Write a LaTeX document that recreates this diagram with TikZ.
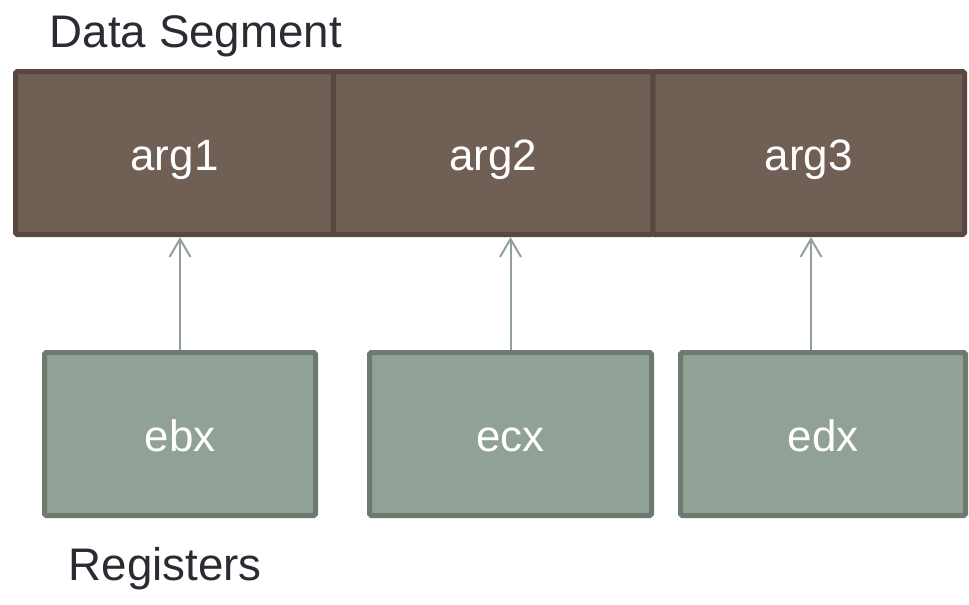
\documentclass[tikz,border=0pt]{standalone}
\usepackage{fontspec}
\setmainfont{Liberation Sans}
\usetikzlibrary{arrows.meta}
\definecolor{segfill}{HTML}{705F55}
\definecolor{segline}{HTML}{594840}
\definecolor{regfill}{HTML}{92A195}
\definecolor{regline}{HTML}{6C7A6F}
\definecolor{titletext}{HTML}{2B2B33}
\begin{document}
\begin{tikzpicture}[
    cell/.style={draw=segline,fill=segfill,line width=0.1cm,rounded corners=1pt,minimum height=3.26cm,inner sep=0pt,
      text=white,font=\fontsize{25}{30}\selectfont,text height=0.68cm,text depth=0cm},
    reg/.style={cell,draw=regline,fill=regfill},
    ptr/.style={-{Straight Barb[length=0.36cm,width=0.42cm]},regfill,line width=0.04cm},
    title/.style={anchor=base west,inner sep=0pt,text=titletext,font=\fontsize{26}{31}\selectfont}]
        \useasboundingbox (0,0) rectangle (19.38,12.08);
        % data segment
        \node[cell,minimum width=6.36cm] (arg1) at (3.49,9.02) {arg1};
        \node[cell,minimum width=6.39cm] (arg2) at (9.86,9.02) {arg2};
        \node[cell,minimum width=6.23cm] (arg3) at (16.175,9.02) {arg3};
        \node[title] (segtitle) at (0.99,11.14) {Data Segment};
        % registers
        \node[reg,minimum width=5.42cm] (ebx) at (3.6,3.4) {ebx};
        \node[reg,minimum width=5.64cm] (ecx) at (10.21,3.4) {ecx};
        \node[reg,minimum width=5.7cm] (edx) at (16.46,3.4) {edx};
        \node[title] (regtitle) at (1.37,0.48) {Registers};
        % pointers
        \draw[ptr] (ebx.north)--(ebx.north |- arg1.south);
        \draw[ptr] (ecx.north)--(ecx.north |- arg2.south);
        \draw[ptr] ([xshift=-0.24cm]edx.north)--([xshift=-0.24cm]edx.north |- arg3.south);
    \end{tikzpicture}
\end{document}
